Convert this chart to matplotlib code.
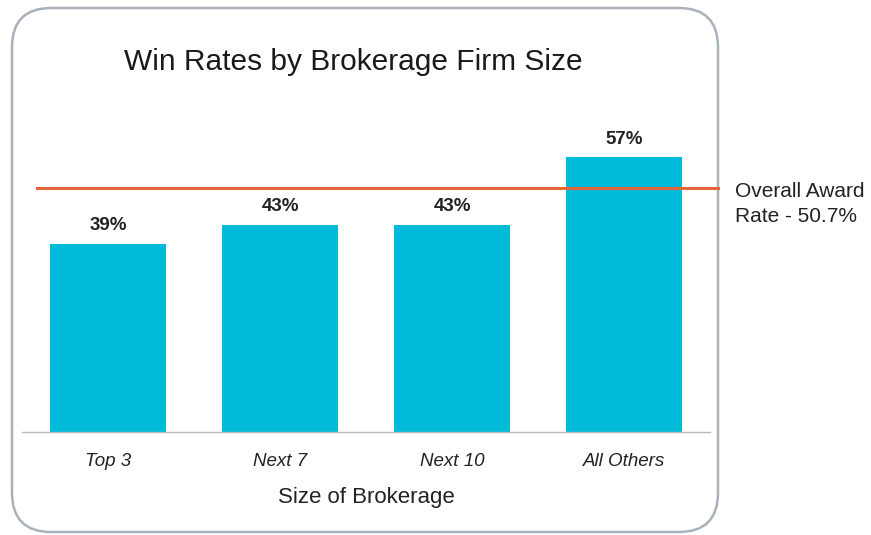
import matplotlib.pyplot as plt
from matplotlib.patches import FancyBboxPatch

plt.rcParams['font.family'] = ['Liberation Sans', 'DejaVu Sans']

categories = ['Top 3', 'Next 7', 'Next 10', 'All Others']
win_rates = [39, 43, 43, 57]
bar_labels = ['39%', '43%', '43%', '57%']
overall_rate = 50.7
overall_text = 'Overall Award\nRate - 50.7%'

W, H = 871, 535
fig = plt.figure(figsize=(W / 100, H / 100), dpi=100)

# rounded frame around the chart
box = FancyBboxPatch((12 / W, 3 / H), 706 / W, 524 / H,
                     boxstyle='round,pad=0,rounding_size=0.045',
                     transform=fig.transFigure, facecolor='white',
                     edgecolor='#a9b1ba', linewidth=1.8, mutation_aspect=W / H,
                     zorder=-5)
fig.patches.append(box)

ax = fig.add_axes([22 / W, (H - 432) / H, 688 / W, 289 / H])
ax.set_zorder(2)
ax.patch.set_alpha(0)

x = range(len(categories))
bars = ax.bar(x, win_rates, width=0.67, color='#00bcda')
ax.set_xlim(-0.5, 3.5)
ax.set_ylim(0, 60)

for b, lab in zip(bars, bar_labels):
    ax.annotate(lab, (b.get_x() + b.get_width() / 2, b.get_height()),
                xytext=(0, 7), textcoords='offset points', ha='center', va='bottom',
                fontsize=13.5, fontweight='bold', color='#222222')

ax.axhline(overall_rate, xmin=15 / 688, xmax=696 / 688, color='#e8643c',
           linewidth=2.2, clip_on=False)
ax.annotate(overall_text, (1.036, overall_rate), xycoords=('axes fraction', 'data'),
            xytext=(0, 4), textcoords='offset points', ha='left', va='top',
            fontsize=15, color='#222222', linespacing=1.4, annotation_clip=False)

for s in ['top', 'right', 'left']:
    ax.spines[s].set_visible(False)
ax.spines['bottom'].set_color('#b3bbc3')
ax.spines['bottom'].set_linewidth(1)
ax.set_yticks([])
ax.set_xticks(list(x))
ax.set_xticklabels(categories, fontsize=13.5, fontstyle='italic', color='#222222')
ax.tick_params(axis='x', length=0, pad=15)
ax.set_xlabel('Size of Brokerage', fontsize=16, color='#222222', labelpad=12)

fig.text(353 / W, 1 - 62 / H, 'Win Rates by Brokerage Firm Size', ha='center', va='center',
         fontsize=21.5, color='#1a1a1a')

fig.savefig('out.png', dpi=100)
